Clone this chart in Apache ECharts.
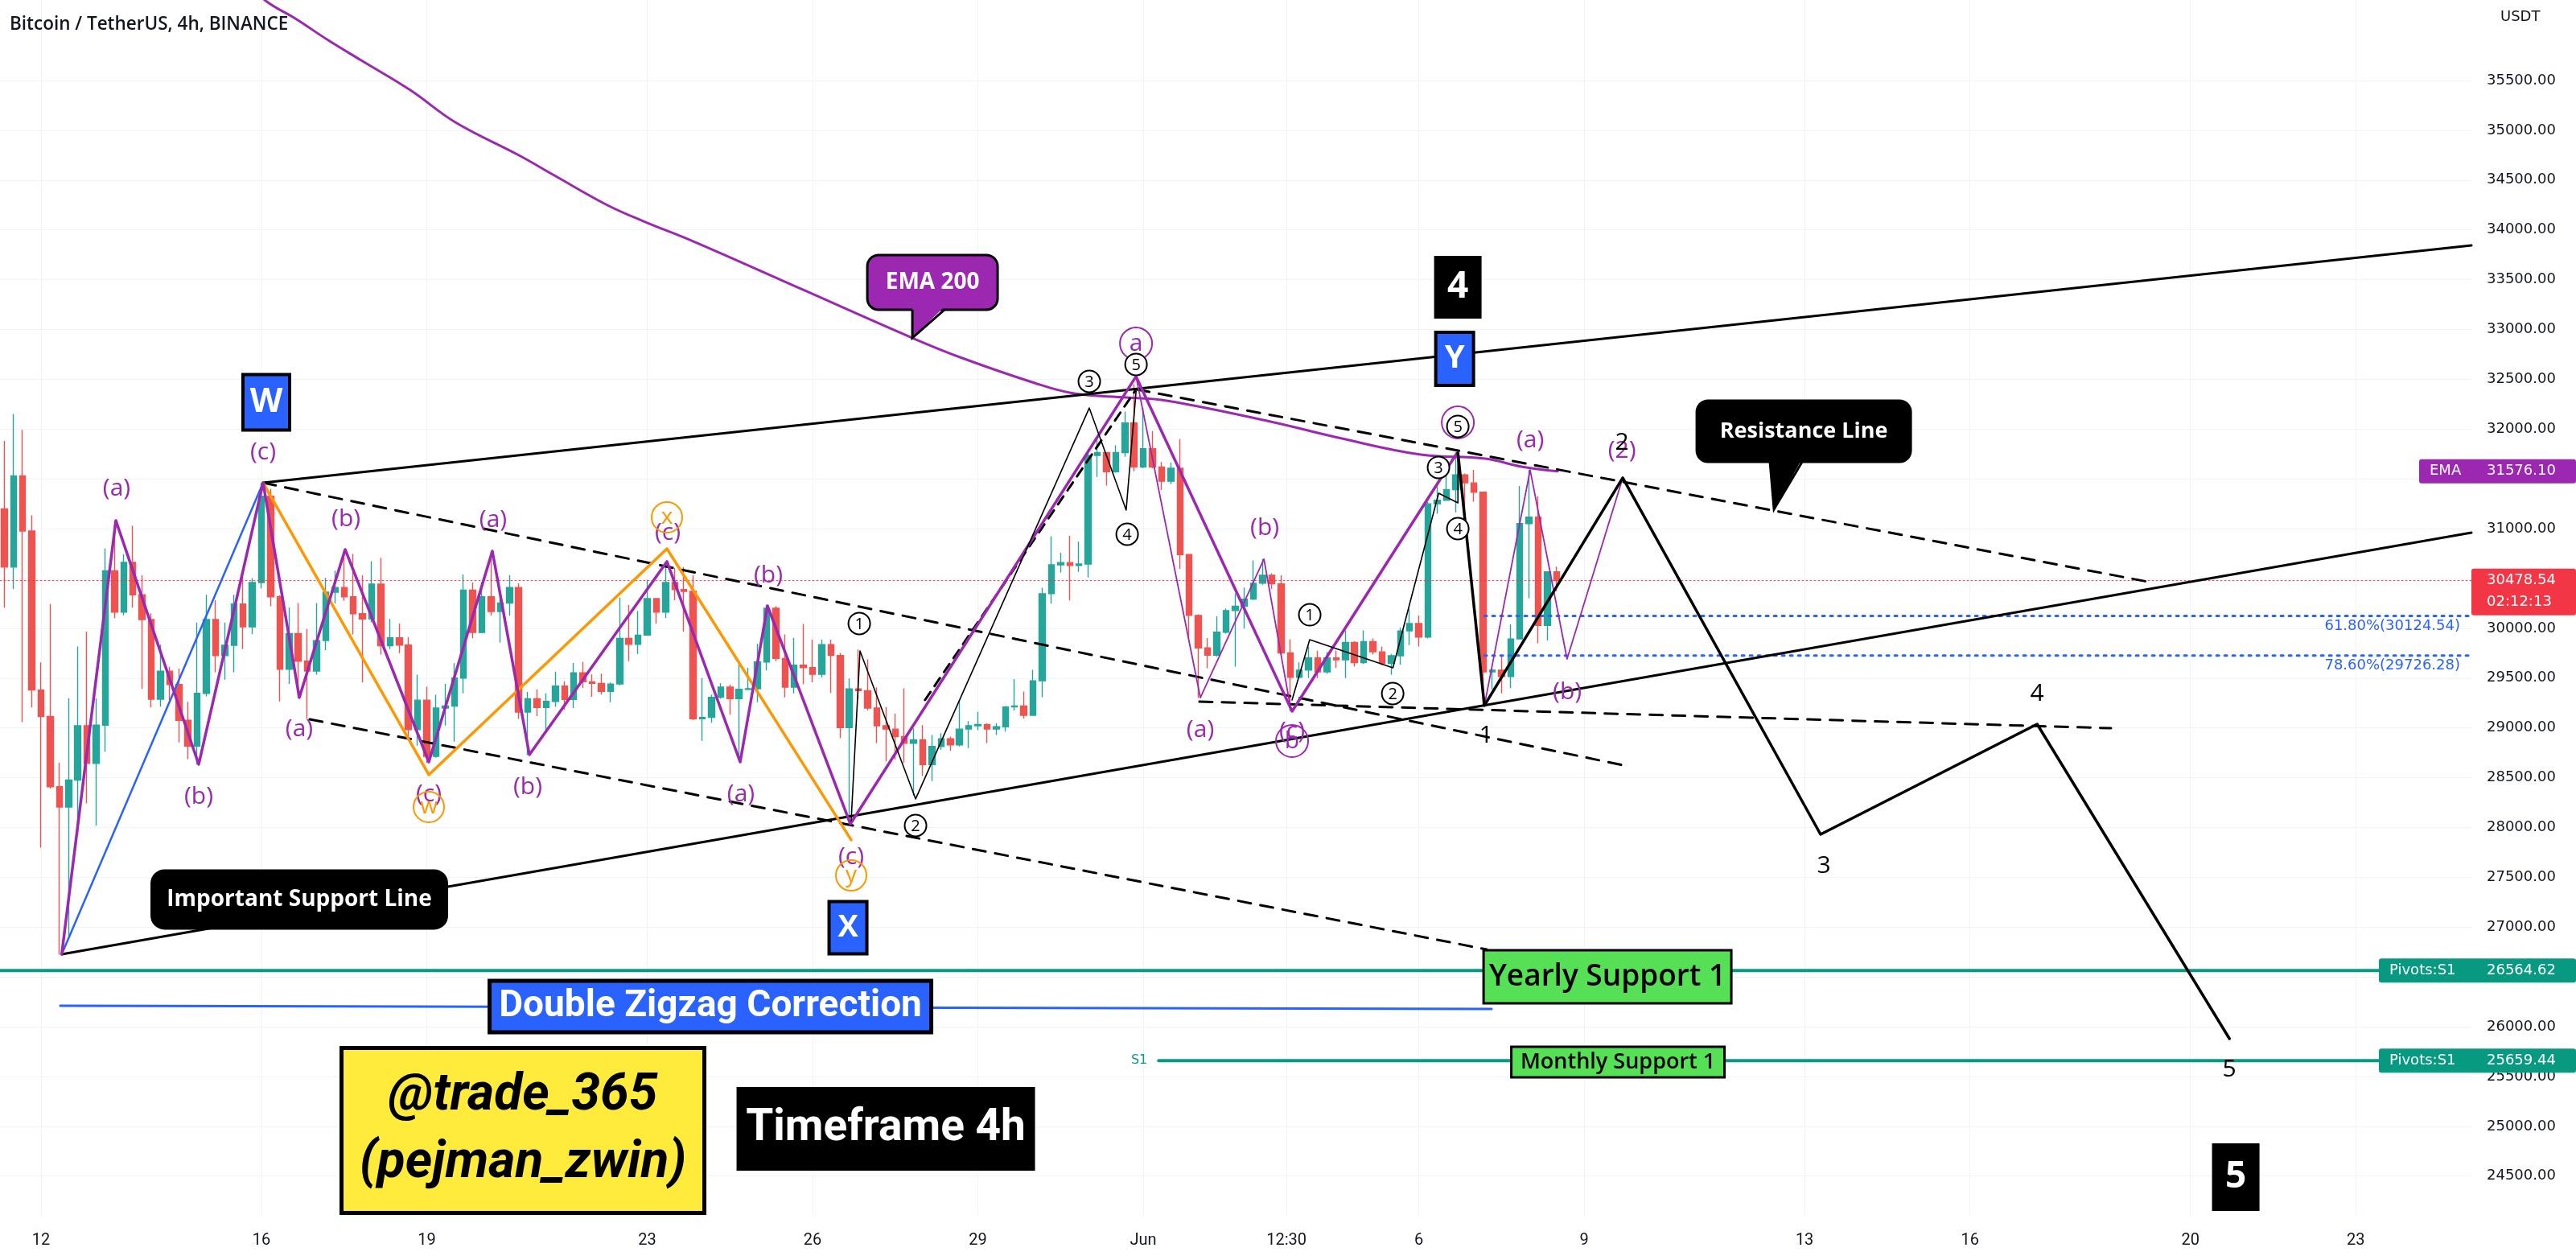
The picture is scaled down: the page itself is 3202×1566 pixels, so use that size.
<!DOCTYPE html>
<html><head><meta charset="utf-8">
<script src="https://cdn.jsdelivr.net/npm/echarts/dist/echarts.min.js"></script>
<style>html,body{margin:0;padding:0;background:#fff}#main{width:3202px;height:1566px}</style>
</head><body><div id="main"></div>
<script>
// ================= DATA =================
const FIRST_CANDLE_DAY = -4 / 6;   // May 11 08:00, in days from May 12 00:00
const CANDLE_STEP_DAYS = 1 / 6;     // 4h candles

const opens = [31200,30614,31530,30977,29380,29114,28410,28206,28476,29021,28643,29028,30577,30162,30662,30336,30088,29288,29569,29436,
29076,28817,29347,30088,29725,29829,30244,30014,30459,31326,30316,29589,29947,29670,29570,29877,30362,30410,30316,30147,
30093,30443,29824,29904,29831,28983,29279,28714,29199,29220,29500,30384,29958,30316,30168,30254,30410,29158,29293,29204,
29266,29420,29285,29554,29463,29447,29366,29441,29899,29840,29931,30298,30163,30459,30389,30370,29091,29105,29307,29409,
29293,29387,29393,29662,30201,29697,29409,29630,29605,29539,29836,29727,29002,29391,29374,29199,29022,28988,28912,28846,
28880,28632,28814,28890,28830,28988,29022,29035,28988,29011,29210,29220,29127,29473,30347,30637,30660,30630,30645,31735,
31764,31571,31764,32061,31620,31802,31620,31476,31606,30740,30129,29803,29730,29961,30178,30221,30293,30452,30533,30446,
29753,29508,29580,29702,29563,29702,29683,29858,29656,29866,29764,29648,29724,29974,30047,29912,31250,31285,31393,31541,
31460,31366,29562,29580,29516,29893,31051,31116,30028,30567];
const highs = [31882,32152,31993,31133,29658,30244,28650,29299,29818,29966,29299,30800,31077,30745,31029,30533,30150,29836,29614,29595,
29262,30058,30336,30281,30058,30336,30540,30503,31459,31400,30330,30209,30254,29993,30254,30505,30578,30788,30747,30532,
30674,30707,30093,30047,29913,29535,29414,29333,29441,29650,30540,30460,30464,30774,30316,30532,30451,29360,29387,29347,
29562,29468,29651,29662,29536,29544,29455,30308,30236,30174,30486,30298,30667,30605,30613,30532,29500,29334,29447,29436,
29643,29603,29845,30236,30222,29939,29905,30043,29885,29885,29885,29753,29496,29786,29687,29407,29210,29143,29397,28995,
29028,28929,28946,28912,29275,29067,29160,29045,29045,29220,29490,29364,29582,30406,30924,30759,30928,30870,31800,31923,
31764,31836,32177,32450,32212,31981,31669,31663,31900,30740,30140,29903,30120,30198,30351,30408,30682,30697,30553,30533,
29889,29658,29817,29774,29760,29777,29979,29872,29979,29899,29818,29743,30006,30195,30128,31267,31428,31536,31762,31555,
31590,31366,29602,29732,30039,31428,31590,31326,30567,30620];
const lows = [30207,30392,29058,29206,27798,28391,26724,26909,27928,28243,28020,28762,30100,30130,30207,29391,29206,29214,29280,28854,
28687,28632,29317,29558,29484,29558,29792,29940,30400,30222,29266,29441,29306,29091,29535,29778,30249,30276,29939,29455,
30060,29737,29791,29751,28889,28822,28647,28701,29024,28862,29347,29900,29950,30128,29858,30128,29091,28727,29118,28943,
29212,29185,29199,29401,29312,29334,29258,29428,29670,29743,29926,30047,30101,30281,29966,29078,28870,29051,29293,29132,
28660,29380,29258,29576,29670,29307,29347,29440,29457,29506,29351,28896,28039,29292,29177,28847,28665,28681,28649,28319,
28517,28467,28780,28771,28814,28797,28978,28847,28929,28962,29176,29094,29127,29308,30248,30561,30279,30567,30509,31519,
31433,31563,31721,31577,31606,31606,31389,31447,30596,29903,29303,29600,29716,29946,29615,29996,30284,30437,30394,29730,
29168,29500,29500,29500,29543,29602,29500,29616,29643,29737,29629,29535,29635,29831,29818,29899,31151,31285,31164,31070,
31272,29225,29387,29347,29400,29893,30302,29850,29877,30370];
const closes = [30614,31530,30977,29380,29114,28410,28206,28476,29021,28643,29028,30577,30162,30662,30336,30088,29288,29569,29436,29076,
28817,29347,30088,29725,29829,30244,30014,30459,31326,30316,29589,29947,29670,29570,29877,30362,30410,30316,30147,30093,
30443,29824,29904,29831,28983,29279,28714,29199,29220,29500,30384,29958,30316,30168,30254,30410,29158,29293,29204,29266,
29420,29285,29554,29463,29447,29366,29441,29899,29840,29931,30298,30163,30459,30389,30370,29091,29105,29307,29409,29293,
29387,29393,29662,30201,29697,29409,29630,29605,29539,29836,29727,29002,29391,29374,29199,29022,28988,28912,28846,28880,
28632,28814,28890,28830,28988,29022,29035,28988,29011,29210,29220,29127,29473,30347,30637,30660,30630,30645,31735,31764,
31571,31764,32061,31620,31802,31620,31476,31606,30740,30129,29803,29730,29961,30178,30221,30293,30452,30533,30446,29753,
29508,29580,29702,29563,29702,29683,29858,29656,29866,29764,29648,29724,29974,30047,29912,31250,31285,31393,31541,31460,
31366,29562,29580,29516,29893,31051,31116,30028,30567,30478.54];

// EMA 200
const emaDays   = [3.635,4.058,4.613,5.212,5.810,6.701,7.518,8.672,9.314,10.277,10.934,11.839,13.854,15.810,16.715,18.029,18.745,19.693,20.423,22.307,23.606,25.036,26.204,26.861,27.518];
const emaValues = [36550,36308,36122,35904,35702,35403,35080,34749,34547,34248,34086,33884,33392,32915,32713,32463,32358,32317,32285,32075,31905,31744,31703,31623,31576.1];

// Axes
const X_MIN = -0.745, X_MAX = 44.10;
const Y_MIN = 24102, Y_MAX = 36308;
const xTickDays   = [0,4,7,11,14,17,20,22.6,25,28,32,35,39,42];
const xTickLabels = ['12','16','19','23','26','29','Jun','12:30','6','9','13','16','20','23'];
const priceTicks = [24500,25000,25500,26000,26500,27000,27500,28000,28500,29000,29500,30000,30500,31000,31500,32000,32500,33000,33500,34000,34500,35000,35500];

const lastPrice = 30478.54, countdown = '02:12:13', emaLast = 31576.10;
const yearlyS1 = 26564.62, monthlyS1 = 25659.44, monthlyStartDay = 20.28;
const fib618 = 30124.54, fib786 = 29726.28, fibStartDay = 26.19;

// Drawings (day, price)
const upperTrend   = [[4.029,31461],[44.10,33844]];
const supportLine  = [[0.375,26727],[44.10,30960]];
const dashedA = [[4.029,31461],[28.77,28618]];
const dashedB = [[4.875,29086],[26.23,26776]];
const dashedC = [[19.88,32398],[38.31,30459]];
const dashedD = [[21.02,29264],[37.56,28997]];
const dashedE = [[16.04,29280],[19.85,32382]];
const purpleMain = [[0.375,26727],[1.357,31082],[2.861,28634],[4.029,31461],[4.686,29304],[5.518,30791],[7.036,28658],[8.189,30775],[8.861,28731],[11.357,30670],[12.686,28658],[13.182,30225],[14.686,28036],[19.869,32528],[22.701,29167],[25.693,31760]];
const purpleSub1 = [[19.869,32528],[21.036,29304],[22.19,30694],[22.66,29240]];
const purpleSub2 = [[26.19,29224],[27.02,31590],[27.69,29692],[28.70,31510]];
const orangeLine = [[4.029,31461],[7.036,28529],[11.357,30799],[14.70,27875]];
const blueLine   = [[0.375,26727],[4.029,31461]];
const blackSub1  = [[14.70,28068],[14.86,29773],[15.87,28287],[19.02,32212],[19.69,31187],[19.87,32382]];
const blackSub2  = [[22.70,29280],[23.02,29886],[24.53,29603],[25.36,31356],[25.71,31259],[25.71,31760]];
const projection = [[25.71,31760],[26.19,29224],[28.70,31510],[32.29,27931],[36.22,29038],[39.71,25879]];
const dzzLine    = [[0.35,26211],[26.32,26178]];

// Text annotations (day, price, text)
const waveLabels = [[1.372,31397,'(a)'],[2.861,28311,'(b)'],[4.029,31768,'(c)'],[5.533,31098,'(b)'],[4.686,28989,'(a)'],[8.204,31082,'(a)'],
 [7.036,28335,'(c)'],[8.832,28408,'(b)'],[11.372,30960,'(c)'],[13.196,30532,'(b)'],[12.70,28335,'(a)'],[14.70,27705,'(c)'],
 [22.204,31009,'(b)'],[21.036,28981,'(a)'],[22.70,28965,'(c)'],[27.022,31889,'(a)'],[27.693,29361,'(b)'],[28.686,31784,'(2)']];
const orangeCircled = [[7.036,28206,'w'],[11.357,31114,'x'],[14.70,27519,'y']];
const purpleCircled = [[19.869,32859,'a'],[22.70,28868,'b'],[25.708,32067,'']];
const blackCircled = [[14.847,30048,'1'],[15.868,28020,'2'],[19.021,32479,'3'],[19.708,30944,'4'],[19.869,32649,'5'],
 [23.021,30136,'1'],[24.526,29345,'2'],[25.357,31615,'3'],[25.708,31001,'4'],[25.708,32027,'5']];
const plainNumbers = [[26.219,28917,'1'],[28.686,31865,'2'],[32.35,27616,'3'],[36.219,29345,'4'],[39.708,25572,'5']];

const boxTexts   = ['W','X','Y','4','5','Yearly Support 1','Monthly Support 1','Double Zigzag Correction','@trade_365\n(pejman_zwin)','Timeframe 4h','EMA 200','Resistance Line','Important Support Line'];
const boxAnchors = [[4.087,32269],[14.642,26994],[25.65,32705],[25.708,33424],[39.824,24490],[28.423,26501],[28.613,25645],[12.146,26202],[8.744,24958],[15.328,24974],[16.175,33473],[31.985,31978],[4.686,27277]];
const boxTips    = [null,null,null,null,null,null,null,null,null,null,[15.81,32915],[31.445,31195],null];

// ================= RENDER =================
const chart = echarts.init(document.getElementById('main'), null, {width:3202, height:1566});
const candleData = opens.map((o,i)=>[FIRST_CANDLE_DAY + i*CANDLE_STEP_DAYS, o, closes[i], lows[i], highs[i]]);
const emaData = emaDays.map((d,i)=>[d, emaValues[i]]);

function lineS(data, color, width, type, z, smooth){
  return {type:'line', data, symbol:'none', silent:true, z:z||4, smooth:smooth||false, animation:false,
    lineStyle:{color, width, type:type||'solid', cap:'round', join:'round'}};
}
function hLine(price, color, width, type, fromDay){
  return lineS([[fromDay==null?X_MIN:fromDay, price],[X_MAX, price]], color, width, type, 3);
}
function customS(items, fn, z){
  return {type:'custom', coordinateSystem:'cartesian2d', silent:true, z:z||10, animation:false,
    data: items.map(it=>[it[0], it[1]]), encode:{x:0,y:1},
    renderItem:(params, api)=>fn(params.dataIndex, api.coord([items[params.dataIndex][0], items[params.dataIndex][1]]), api)};
}
const FONT = '"Open Sans", "DejaVu Sans", sans-serif';
const boxStyles = [
 {w:58,h:69,fill:'#2962ff',lw:4,font:'bold 42px '+FONT,color:'#fff',r:0},
 {w:47,h:65,fill:'#2962ff',lw:4,font:'bold 38px '+FONT,color:'#fff',r:0},
 {w:47,h:66,fill:'#2962ff',lw:4,font:'bold 40px '+FONT,color:'#fff',r:0},
 {w:57,h:76,fill:'#000000',lw:2,font:'bold 46px '+FONT,color:'#fff',r:0},
 {w:57,h:82,fill:'#000000',lw:2,font:'bold 46px '+FONT,color:'#fff',r:0},
 {w:308,h:66,fill:'#55e055',lw:3,font:'600 37px '+FONT,color:'#000',r:0},
 {w:265,h:38,fill:'#55e055',lw:3,font:'600 27px '+FONT,color:'#000',r:0},
 {w:549,h:64,fill:'#2962ff',lw:5,font:'bold 46px Roboto, sans-serif',color:'#fff',r:0},
 {w:451,h:205,fill:'#ffeb3b',lw:5,font:'italic bold 64px Roboto, sans-serif',color:'#000',r:0,lh:84},
 {w:369,h:102,fill:'#000000',lw:2,font:'bold 55px Roboto, sans-serif',color:'#fff',r:0},
 {w:162,h:68,fill:'#9c27b0',lw:3,font:'bold 28px '+FONT,color:'#fff',r:14,b1:-25,b2:15},
 {w:266,h:76,fill:'#000000',lw:3,font:'bold 27px '+FONT,color:'#fff',r:14,b1:-42,b2:-2},
 {w:367,h:72,fill:'#000000',lw:3,font:'bold 28px '+FONT,color:'#fff',r:16}
];

const series = [
  hLine(lastPrice, '#f23645', 1, [2,3]),
  {type:'candlestick', data:candleData, encode:{x:0,y:[1,2,3,4]}, barWidth:8, z:2, silent:true,
   itemStyle:{color:'#26a69a', color0:'#ef5350', borderColor:'#26a69a', borderColor0:'#ef5350', borderWidth:1.4}},
  lineS(emaData, '#9c27b0', 3, 'solid', 3, 0.4),
  hLine(yearlyS1, '#089981', 4, 'solid'),
  hLine(monthlyS1, '#089981', 4, 'solid', monthlyStartDay),
  hLine(fib618, '#2962ff', 3, [3,7], fibStartDay),
  hLine(fib786, '#2962ff', 3, [3,7], fibStartDay),
  lineS(dzzLine, '#2962ff', 3),
  lineS(upperTrend, '#000', 3),
  lineS(supportLine, '#000', 3),
  lineS(dashedA, '#000', 3, [16,12]),
  lineS(dashedB, '#000', 3, [16,12]),
  lineS(dashedC, '#000', 3, [16,12]),
  lineS(dashedD, '#000', 3, [16,12]),
  lineS(dashedE, '#000', 3, [12,9]),
  lineS(blueLine, '#2962ff', 2.5),
  lineS(orangeLine, '#ff9800', 3.5),
  lineS(purpleMain, '#9c27b0', 3.5),
  lineS(purpleSub1, '#9c27b0', 1.8),
  lineS(purpleSub2, '#9c27b0', 1.8),
  lineS(blackSub1, '#000', 1.6),
  lineS(blackSub2, '#000', 1.6),
  lineS(projection, '#000', 3.5),
  customS(waveLabels, (i, pt)=>({type:'text', x:pt[0], y:pt[1], style:{text:waveLabels[i][2], fill:'#9c27b0', font:'30px '+FONT, align:'center', verticalAlign:'middle'}})),
  customS(orangeCircled, (i, pt)=>({type:'group', children:[
    {type:'circle', shape:{cx:pt[0], cy:pt[1], r:19}, style:{fill:'none', stroke:'#ff9800', lineWidth:2}},
    {type:'text', x:pt[0], y:pt[1], style:{text:orangeCircled[i][2], fill:'#ff9800', font:'28px '+FONT, align:'center', verticalAlign:'middle'}}]})),
  customS(purpleCircled, (i, pt)=>({type:'group', children:[
    {type:'circle', shape:{cx:pt[0], cy:pt[1], r:20}, style:{fill:'none', stroke:'#9c27b0', lineWidth:2}},
    {type:'text', x:pt[0], y:pt[1], style:{text:purpleCircled[i][2], fill:'#9c27b0', font:'30px '+FONT, align:'center', verticalAlign:'middle'}}]})),
  customS(blackCircled, (i, pt)=>({type:'group', children:[
    {type:'circle', shape:{cx:pt[0], cy:pt[1], r:13.5}, style:{fill:'#fff', stroke:'#000', lineWidth:2}},
    {type:'text', x:pt[0], y:pt[1]+1, style:{text:blackCircled[i][2], fill:'#000', font:'20px '+FONT, align:'center', verticalAlign:'middle'}}]}), 11),
  customS(plainNumbers, (i, pt)=>({type:'text', x:pt[0], y:pt[1], style:{text:plainNumbers[i][2], fill:'#000', font:'30px '+FONT, align:'center', verticalAlign:'middle'}}), 12),
  customS(boxAnchors, (i, c, api)=>{
    const s = boxStyles[i];
    const x0 = c[0]-s.w/2, y0 = c[1]-s.h/2;
    const ch = [{type:'rect', shape:{x:x0, y:y0, width:s.w, height:s.h, r:s.r}, style:{fill:s.fill, stroke:'#000', lineWidth:s.lw}}];
    if (boxTips[i]) {
      const t = api.coord(boxTips[i]);
      const bA = [c[0]+s.b1, y0+s.h-4], bB = [c[0]+s.b2, y0+s.h-4];
      ch.push({type:'polygon', shape:{points:[bA, bB, t]}, style:{fill:s.fill}});
      ch.push({type:'polyline', shape:{points:[[bA[0], y0+s.h], t, [bB[0], y0+s.h]]}, style:{fill:'none', stroke:'#000', lineWidth:s.lw}});
    }
    ch.push({type:'text', x:c[0], y:c[1], style:{text:boxTexts[i], fill:s.color, font:s.font, align:'center', verticalAlign:'middle', lineHeight:s.lh||undefined}});
    return {type:'group', children:ch};
  }, 14)
];

const tickLabelMap = {};
xTickDays.forEach((d,i)=>{ tickLabelMap[d.toFixed(2)] = xTickLabels[i]; });

chart.setOption({
  animation:false,
  backgroundColor:'#ffffff',
  grid:{left:0, right:130, top:0, bottom:55},
  xAxis:{type:'value', min:X_MIN, max:X_MAX,
    axisLine:{show:false}, axisTick:{show:false, customValues:xTickDays},
    axisLabel:{customValues:xTickDays, formatter:v=>tickLabelMap[(+v).toFixed(2)]||'', color:'#131722', fontSize:20, fontFamily:'Roboto', margin:21},
    splitLine:{show:true, lineStyle:{color:'#f0f3fa', width:1}}},
  yAxis:{type:'value', position:'right', min:Y_MIN, max:Y_MAX,
    axisLine:{show:false}, axisTick:{show:false, customValues:priceTicks},
    axisLabel:{customValues:priceTicks, formatter:v=>(+v).toFixed(2), color:'#131722', fontSize:18, fontFamily:'DejaVu Sans', margin:19, align:'left'},
    splitLine:{show:true, lineStyle:{color:'#f0f3fa', width:1}}},
  series
});

const yOf = v => chart.convertToPixel({yAxisIndex:0}, v);
const xOf = v => chart.convertToPixel({xAxisIndex:0}, v);
const TAGF = '18px "DejaVu Sans", sans-serif';
const yE = yOf(emaLast), yP = yOf(lastPrice), yY = yOf(yearlyS1), yM = yOf(monthlyS1), yF1 = yOf(fib618), yF2 = yOf(fib786);
const G = (o)=>Object.assign({z:100, zlevel:1, silent:true}, o);
chart.setOption({graphic:[
  G({type:'text', left:12, top:19, style:{text:'Bitcoin / TetherUS, 4h, BINANCE', fill:'#131722', font:'600 22.5px "Open Sans", sans-serif'}}),
  G({type:'text', left:3108, top:12, style:{text:'USDT', fill:'#131722', font:'18px "DejaVu Sans", sans-serif'}}),
  G({type:'rect', shape:{x:3007, y:yE-15, width:195, height:30, r:3}, style:{fill:'#9c27b0'}}),
  G({type:'text', x:3020, y:yE, style:{text:'EMA', fill:'#fff', font:TAGF, verticalAlign:'middle'}}),
  G({type:'text', x:3091, y:yE, style:{text:emaLast.toFixed(2), fill:'#fff', font:TAGF, verticalAlign:'middle'}}),
  G({type:'rect', shape:{x:3072, y:yP-15, width:130, height:58, r:3}, style:{fill:'#f23645'}}),
  G({type:'text', x:3091, y:yP, style:{text:lastPrice.toFixed(2), fill:'#fff', font:TAGF, verticalAlign:'middle'}}),
  G({type:'text', x:3091, y:yP+27, style:{text:countdown, fill:'#fff', font:TAGF, verticalAlign:'middle'}}),
  G({type:'rect', shape:{x:2957, y:yY-15, width:245, height:30, r:3}, style:{fill:'#089981'}}),
  G({type:'text', x:2970, y:yY, style:{text:'Pivots:S1', fill:'#fff', font:TAGF, verticalAlign:'middle'}}),
  G({type:'text', x:3091, y:yY, style:{text:yearlyS1.toFixed(2), fill:'#fff', font:TAGF, verticalAlign:'middle'}}),
  G({type:'rect', shape:{x:2957, y:yM-15, width:245, height:30, r:3}, style:{fill:'#089981'}}),
  G({type:'text', x:2970, y:yM, style:{text:'Pivots:S1', fill:'#fff', font:TAGF, verticalAlign:'middle'}}),
  G({type:'text', x:3091, y:yM, style:{text:monthlyS1.toFixed(2), fill:'#fff', font:TAGF, verticalAlign:'middle'}}),
  G({type:'text', x:3058, y:yF1+13, style:{text:'61.80%('+fib618.toFixed(2)+')', fill:'#2962ff', font:TAGF, align:'right', verticalAlign:'middle'}}),
  G({type:'text', x:3058, y:yF2+13, style:{text:'78.60%('+fib786.toFixed(2)+')', fill:'#2962ff', font:TAGF, align:'right', verticalAlign:'middle'}}),
  G({type:'text', x:xOf(monthlyStartDay)-14, y:yM, style:{text:'S1', fill:'#089981', font:'16px "DejaVu Sans", sans-serif', align:'right', verticalAlign:'middle'}})
]});
</script></body></html>
